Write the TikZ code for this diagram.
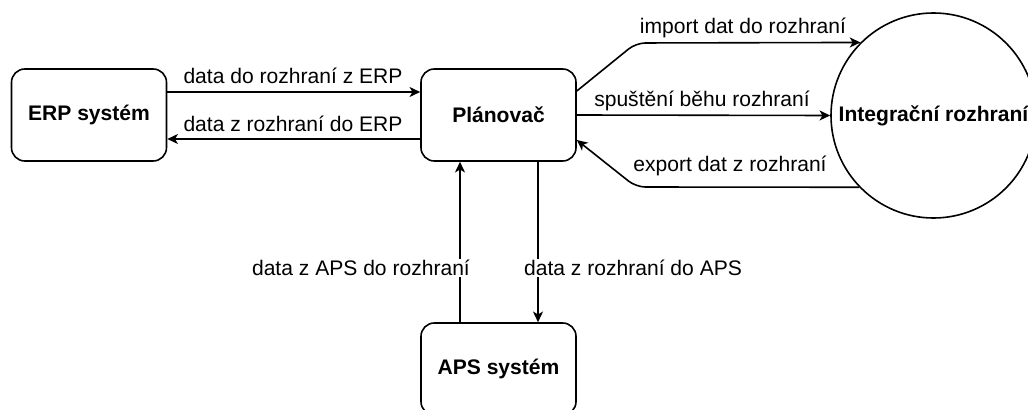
\documentclass[tikz,border=0pt]{standalone}
\usepackage{fontspec}
\setmainfont{Liberation Sans}
\usetikzlibrary{arrows.meta,calc}
\begin{document}
\begin{tikzpicture}[x=0.75pt,y=-0.75pt,
  font=\fontsize{15.8}{19}\selectfont,
  line width=1.2pt,
  box/.style={draw,rounded corners=10pt,inner sep=0pt,
              minimum width=116.25pt,minimum height=69pt,font=\fontsize{15.8}{19}\selectfont\bfseries},
  store/.style={draw,circle,minimum size=153.75pt,inner sep=0pt,font=\fontsize{15.8}{19}\selectfont\bfseries},
  flow/.style={-{Stealth[length=8pt,width=7.5pt,inset=2.2pt]}},
  lbl/.style={inner sep=1pt},
  cut/.style={lbl,fill=white}]
\clip (0,0) rectangle (1028,410);
\fill[white] (0,0) rectangle (1028,410);

\node[box] (erp) at (89,115) {ERP systém};
\node[box] (pl) at (498.5,115) {Plánovač};
\node[box] (aps) at (498.5,369) {APS systém};
\node[store] (ir) at (933.5,115.5) {Integrační rozhraní};

% ERP <-> planner
\draw[flow] (erp.east |- 0,92) -- (pl.west |- 0,92);
\node[lbl] (l1) at (293,76) {data do rozhraní z ERP};
\draw[flow] (pl.west |- 0,139) -- (erp.east |- 0,139);
\node[lbl] (l2) at (293,124) {data z rozhraní do ERP};

% planner <-> integration interface
\draw[flow,rounded corners=7pt] (pl.east |- 0,91) -- (636,43) -- (ir.135);
\node[lbl] (l3) at (743,28) {import dat do rozhraní};
\draw[flow] (pl.east) -- (ir.west);
\node[lbl] (l4) at (702,101) {spuštění běhu rozhraní};
\draw[flow,rounded corners=7pt] (ir.224) -- (636,187) -- (pl.east |- 0,140);
\node[lbl] (l5) at (730,166) {export dat z rozhraní};

% planner <-> APS
\draw[flow] (aps.north -| 460,0) -- (pl.south -| 460,0);
\node[cut,anchor=east] (l6) at (472,268) {data z APS do rozhraní};
\draw[flow] (pl.south -| 538,0) -- (aps.north -| 538,0);
\node[cut,anchor=west] (l7) at (522,268) {data z rozhraní do APS};
\end{tikzpicture}
\end{document}
